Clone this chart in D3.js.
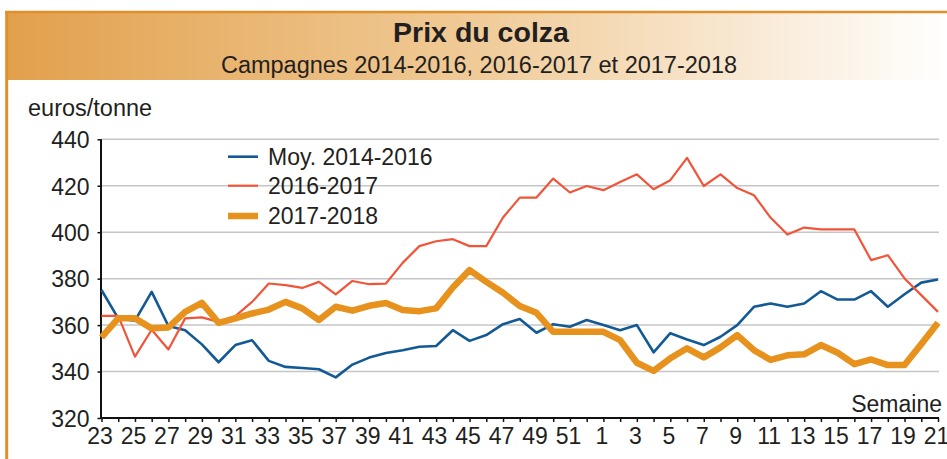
<!DOCTYPE html>
<html><head><meta charset="utf-8">
<script src="https://cdn.jsdelivr.net/npm/d3@7"></script>
<style>body{margin:0;background:#fff} text{font-family:"Liberation Sans",Arial,sans-serif;fill:#231f20}</style>
</head><body><svg id="c" width="947" height="459"></svg>
<script>
const weeks = [23,24,25,26,27,28,29,30,31,32,33,34,35,36,37,38,39,40,41,42,43,44,45,46,47,48,49,50,51,52,1,2,3,4,5,6,7,8,9,10,11,12,13,14,15,16,17,18,19,20,21];
const moy = [375.1,362.9,361.9,374.3,359.6,357.8,351.7,344,351.4,353.5,344.6,342,341.5,341,337.5,343,346,348,349.2,350.7,351,357.8,353.2,355.7,360.4,362.6,356.7,360.4,359.3,362.2,360,357.8,360,348.3,356.5,353.8,351.4,355,360,367.9,369.3,367.9,369.3,374.6,371,371,374.6,367.9,373.3,378.3,379.6];
const s1617 = [364,364,346.4,358,349.5,362.9,363.3,361.4,363.9,370,377.9,377.2,376,378.6,373.2,379,377.6,377.9,386.8,394,396.1,397,394,394,406.3,414.9,414.9,423.1,417.1,419.9,418.1,421.6,424.9,418.5,422.4,432,419.9,424.9,419,415.9,406.2,399,402,401.2,401.2,401.2,388,390.1,380.1,372.9,365.7];
const s1718 = [354.7,362.9,362.9,358.6,359,365.7,369.6,361,362.9,365,366.7,370,367.2,362.2,367.9,366.2,368.3,369.5,366.5,366,367.2,376.2,383.7,378.6,373.9,368.2,365.3,357.1,357.1,357.1,357.1,353.5,343.8,340.3,345.7,350,346.1,350.4,355.7,349.2,345,347,347.4,351.4,348.1,343.2,345.2,342.8,342.8,351.8,361];
const yTicks = [320,340,360,380,400,420,440];
const seriesNames = ["Moy. 2014-2016","2016-2017","2017-2018"];
const title = "Prix du colza";
const subtitle = "Campagnes 2014-2016, 2016-2017 et 2017-2018";

const svg = d3.select("#c");
const defs = svg.append("defs");
const gr = defs.append("linearGradient").attr("id","bg").attr("x1","0").attr("x2","1").attr("y1","0").attr("y2","0");
gr.append("stop").attr("offset","0").attr("stop-color","#e2a04c");
gr.append("stop").attr("offset","0.5").attr("stop-color","#f0cb98");
gr.append("stop").attr("offset","1").attr("stop-color","#ffffff");

svg.append("rect").attr("x",6).attr("y",12).attr("width",941).attr("height",68).attr("fill","url(#bg)");
svg.append("line").attr("x1",5).attr("x2",947).attr("y1",12).attr("y2",12).attr("stroke","#e08f2a").attr("stroke-width",2.5);
svg.append("line").attr("x1",6.7).attr("x2",6.7).attr("y1",11).attr("y2",459).attr("stroke","#e08f2a").attr("stroke-width",3);

svg.append("text").attr("x",481).attr("y",41.5).attr("text-anchor","middle").attr("font-size",28.5).attr("font-weight","bold").text(title);
svg.append("text").attr("x",479).attr("y",73.3).attr("text-anchor","middle").attr("font-size",23.5).text(subtitle);

const x = d3.scalePoint().domain(weeks).range([101.5,938]);
const y = d3.scaleLinear().domain([320,440]).range([418,139.3]);

// grid
svg.append("g").selectAll("line").data(yTicks.filter(d=>d>320)).join("line")
  .attr("x1",101.5).attr("x2",939).attr("y1",d=>y(d)).attr("y2",d=>y(d))
  .attr("stroke","#c6c6c6").attr("stroke-width",1.5);

// y axis
const ya = svg.append("g").attr("transform","translate(101.5,0)")
  .call(d3.axisLeft(y).tickValues(yTicks).tickSize(4).tickPadding(8));
ya.select(".domain").attr("stroke","#111").attr("stroke-width",2).attr("d","M-0.5,"+y(440)+"V"+y(320));
ya.selectAll(".tick line").attr("stroke","#111").attr("stroke-width",1.5);
ya.selectAll(".tick text").attr("font-size",23).attr("fill","#231f20").attr("font-family","Liberation Sans, Arial, sans-serif").attr("dy","0.36em");

// x axis
const xa = svg.append("g").attr("transform","translate(0,"+y(320)+")")
  .call(d3.axisBottom(x).tickSize(4).tickPadding(6).tickFormat((d,i)=> i%2===0 ? d : ""));
xa.select(".domain").attr("stroke","#111").attr("stroke-width",2).attr("d","M100.5,0H939");
xa.selectAll(".tick line").attr("stroke","#111").attr("stroke-width",1.5);
xa.selectAll(".tick text").attr("font-size",23).attr("fill","#231f20").attr("font-family","Liberation Sans, Arial, sans-serif").attr("dx","-2");

svg.append("text").attr("x",28).attr("y",115.7).attr("font-size",23.5).text("euros/tonne");
svg.append("text").attr("x",942).attr("y",412).attr("text-anchor","end").attr("font-size",23).text("Semaine");

const line = d3.line().x((d,i)=>x(weeks[i])).y(d=>y(d));
const series = [
  {name:seriesNames[0], data:moy, color:"#135a95", w:2.6},
  {name:seriesNames[1], data:s1617, color:"#f0553a", w:2.2},
  {name:seriesNames[2], data:s1718, color:"#e8921e", w:6.5}
];
svg.append("g").selectAll("path").data(series).join("path")
  .attr("d",d=>line(d.data)).attr("fill","none").attr("stroke",d=>d.color)
  .attr("stroke-width",d=>d.w).attr("stroke-linejoin","round");

// legend
const legY = [156.7,185.7,216];
const lg = svg.append("g");
series.forEach((s,i)=>{
  lg.append("line").attr("x1",228).attr("x2",258).attr("y1",legY[i]).attr("y2",legY[i]).attr("stroke",s.color).attr("stroke-width",s.w);
  lg.append("text").attr("x",268).attr("y",legY[i]+8.3).attr("font-size",23).text(s.name);
});
</script></body></html>
